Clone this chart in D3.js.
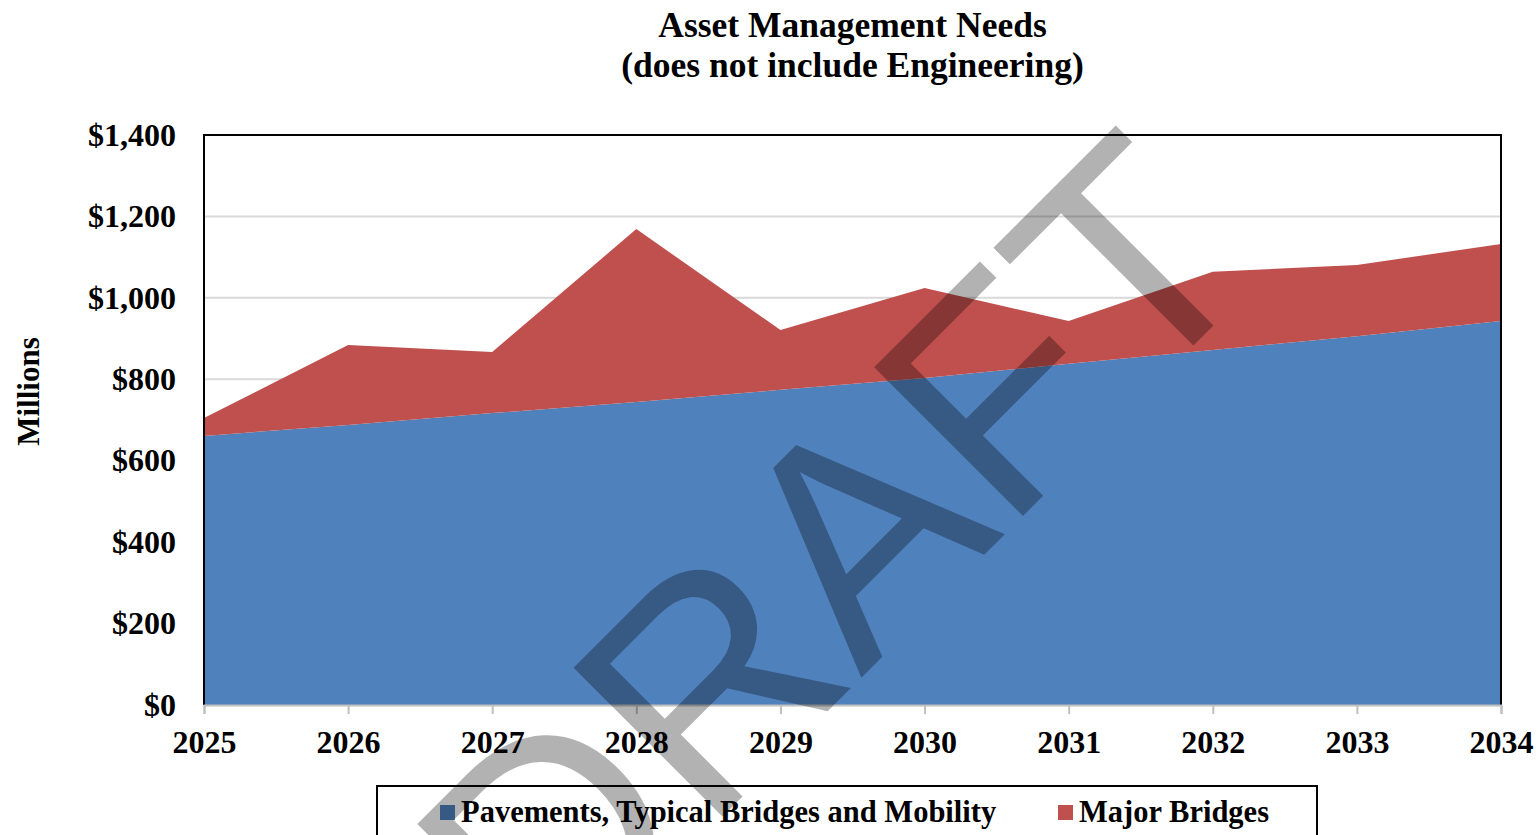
<!DOCTYPE html>
<html>
<head>
<meta charset="utf-8">
<script src="https://cdn.jsdelivr.net/npm/d3@7/dist/d3.min.js"></script>
<style>
  body { margin: 0; background: #fff; }
  svg { display: block; }
  text { font-family: "Liberation Serif", "Times New Roman", serif; font-weight: bold; fill: #000; }
</style>
</head>
<body>
<div id="chart"></div>
<script>
// chart data
var years = [2025, 2026, 2027, 2028, 2029, 2030, 2031, 2032, 2033, 2034];
var pavements = [661, 688, 717, 744, 774, 803, 838, 872, 906, 943];
var majorBridges = [44, 196, 150, 425, 147, 221, 105, 192, 175, 189];
var yTicks = [0, 200, 400, 600, 800, 1000, 1200, 1400];
var seriesNames = ["Pavements, Typical Bridges and Mobility", "Major Bridges"];
var seriesColors = ["#4f81bd", "#c0504d"];

var W = 1539, H = 835;
var margin = {top: 135, right: 38, bottom: 130, left: 204};
var width = W - margin.left - margin.right;
var height = H - margin.top - margin.bottom;

var svg = d3.select("#chart").append("svg")
    .attr("width", W)
    .attr("height", H);

// title
svg.append("text")
    .attr("x", margin.left + width / 2)
    .attr("y", 37)
    .attr("text-anchor", "middle")
    .style("font-size", "35.5px")
    .text("Asset Management Needs");
svg.append("text")
    .attr("x", margin.left + width / 2)
    .attr("y", 77)
    .attr("text-anchor", "middle")
    .style("font-size", "35.5px")
    .text("(does not include Engineering)");

var g = svg.append("g")
    .attr("transform", "translate(" + margin.left + "," + margin.top + ")");

var x = d3.scaleLinear()
    .domain([years[0], years[years.length - 1]])
    .range([0, width]);

var y = d3.scaleLinear()
    .domain([0, 1400])
    .range([height, 0]);

// gridlines
g.selectAll(".grid")
    .data(yTicks.slice(1, -1))
    .enter().append("line")
    .attr("x1", 0)
    .attr("x2", width)
    .attr("y1", function(d) { return y(d); })
    .attr("y2", function(d) { return y(d); })
    .attr("stroke", "#d9d9d9")
    .attr("stroke-width", 2);

// stacked areas
var rows = years.map(function(yr, i) {
    return {year: yr, a: pavements[i], b: majorBridges[i]};
});
var stack = d3.stack().keys(["a", "b"]);
var layers = stack(rows);

var area = d3.area()
    .x(function(d) { return x(d.data.year); })
    .y0(function(d) { return y(d[0]); })
    .y1(function(d) { return y(d[1]); });

g.selectAll(".layer")
    .data(layers)
    .enter().append("path")
    .attr("d", area)
    .attr("fill", function(d, i) { return seriesColors[i]; });

// plot border (top, left, right black)
g.append("path")
    .attr("d", "M0," + height + "V0H" + width + "V" + height)
    .attr("fill", "none")
    .attr("stroke", "#000")
    .attr("stroke-width", 2);

// x axis
var xAxis = d3.axisBottom(x)
    .tickValues(years)
    .tickFormat(d3.format("d"))
    .tickSize(9)
    .tickPadding(16);

var xg = g.append("g")
    .attr("transform", "translate(0," + height + ")")
    .call(xAxis);
xg.select(".domain").attr("stroke", "#bfbfbf").attr("stroke-width", 2);
xg.selectAll(".tick line").attr("stroke", "#bfbfbf").attr("stroke-width", 2);
xg.selectAll(".tick text")
    .style("font-size", "32px")
    .style("font-family", "Liberation Serif, serif")
    .style("font-weight", "bold")
    .attr("fill", "#000");

// y axis labels
var yAxis = d3.axisLeft(y)
    .tickValues(yTicks)
    .tickFormat(function(d) { return "$" + d3.format(",")(d); })
    .tickSize(0)
    .tickPadding(28);

var yg = g.append("g").call(yAxis);
yg.select(".domain").remove();
yg.selectAll(".tick text")
    .style("font-size", "32px")
    .style("font-family", "Liberation Serif, serif")
    .style("font-weight", "bold")
    .attr("fill", "#000");

// y axis title
svg.append("text")
    .attr("transform", "translate(39," + (margin.top + height * 0.45) + ") rotate(-90)")
    .attr("text-anchor", "middle")
    .style("font-size", "31px")
    .text("Millions");

// legend
var legend = svg.append("g");
legend.append("rect")
    .attr("x", 377)
    .attr("y", 786)
    .attr("width", 940)
    .attr("height", 70)
    .attr("fill", "#fff")
    .attr("stroke", "#000")
    .attr("stroke-width", 2);

var legendX = [440, 1058];
seriesNames.forEach(function(name, i) {
    legend.append("rect")
        .attr("x", legendX[i])
        .attr("y", 805)
        .attr("width", 15)
        .attr("height", 15)
        .attr("fill", seriesColors[i]);
    legend.append("text")
        .attr("x", legendX[i] + 21)
        .attr("y", 822)
        .style("font-size", "30.5px")
        .text(name);
});

// DRAFT watermark
svg.append("text")
    .attr("transform", "translate(909,630) rotate(-45)")
    .attr("text-anchor", "middle")
    .style("font-family", "Liberation Sans, Arial, sans-serif")
    .style("font-weight", "normal")
    .style("font-size", "306px")
    .style("fill", "#000")
    .style("fill-opacity", 0.3)
    .text("DRAFT");
</script>
</body>
</html>
